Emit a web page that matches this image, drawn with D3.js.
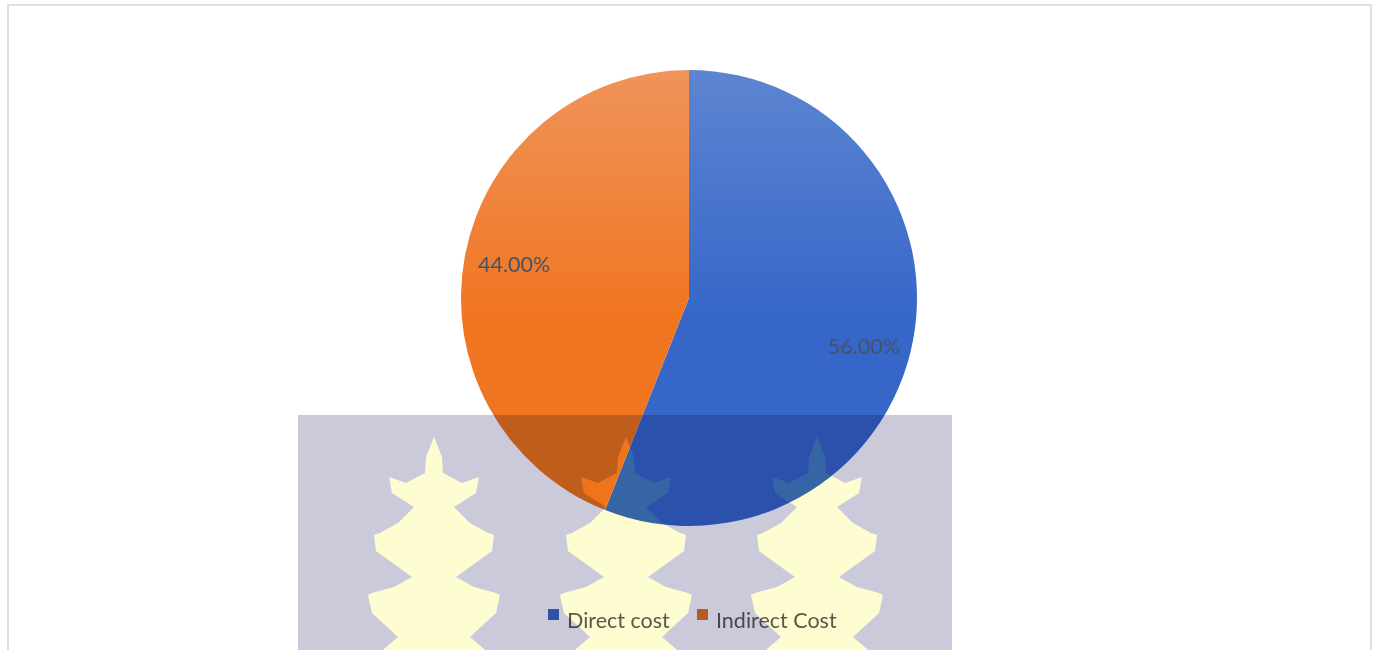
<!DOCTYPE html>
<html lang="en">
<head>
    <meta charset="UTF-8">
    <title>Cost split</title>
    <style>
        body { margin: 0; background: #fff; }
        svg { display: block; }
        .wm { mix-blend-mode: multiply; }
    </style>
    <script src="https://d3js.org/d3.v7.min.js"></script>
</head>
<body>
    <svg width="1380" height="650"></svg>
    <script>
        const categories = ['Direct cost', 'Indirect Cost'];
        const values = [56.0, 44.0];
        const colorsTop = ['#5d85d1', '#ef9459'];
        const colorsBottom = ['#3566c8', '#f07520'];
        const legendColors = ['#3b66c4', '#e8712b'];

        const svg = d3.select("svg"),
            width = +svg.attr("width"),
            height = +svg.attr("height");

        // chart frame
        svg.append("rect")
            .attr("x", 8).attr("y", 5)
            .attr("width", 1363).attr("height", 660)
            .attr("fill", "#fff")
            .attr("stroke", "#dde0e6")
            .attr("stroke-width", 2);

        const cx = 689, cy = 298, r = 228;

        const defs = svg.append("defs");
        categories.forEach((c, i) => {
            const g = defs.append("linearGradient")
                .attr("id", "grad" + i)
                .attr("gradientUnits", "userSpaceOnUse")
                .attr("x1", 0).attr("y1", -r)
                .attr("x2", 0).attr("y2", r);
            g.append("stop").attr("offset", "0%").attr("stop-color", colorsTop[i]);
            g.append("stop").attr("offset", "55%").attr("stop-color", colorsBottom[i]);
            g.append("stop").attr("offset", "100%").attr("stop-color", colorsBottom[i]);
        });

        const pie = d3.pie().sort(null).value(d => d);
        const arcs = pie(values);
        const arc = d3.arc().innerRadius(0).outerRadius(r);
        const labelArc = d3.arc().innerRadius(178).outerRadius(178);
        const labelNudge = [15, 0]; // excel best-fit shifts the right label down a bit

        const g = svg.append("g").attr("transform", `translate(${cx},${cy})`);

        g.selectAll("path")
            .data(arcs)
            .enter().append("path")
            .attr("d", arc)
            .attr("fill", (d, i) => `url(#grad${i})`);

        g.selectAll("text.lbl")
            .data(arcs)
            .enter().append("text")
            .attr("class", "lbl")
            .attr("transform", (d, i) => {
                const [x, y] = labelArc.centroid(d);
                return `translate(${x},${y + labelNudge[i]})`;
            })
            .attr("text-anchor", "middle")
            .attr("dy", "0.35em")
            .attr("font-family", "Lato, 'Open Sans', sans-serif")
            .attr("font-size", 21.5)
            .attr("fill", "#46536a")
            .text(d => d.data.toFixed(2) + "%");

        // legend
        const legend = svg.append("g").attr("transform", "translate(548,609)");
        const offsets = [0, 149];
        categories.forEach((c, i) => {
            const item = legend.append("g").attr("transform", `translate(${offsets[i]},0)`);
            item.append("rect").attr("width", 11).attr("height", 11).attr("fill", legendColors[i]);
            item.append("text")
                .attr("x", 19).attr("y", 19)
                .attr("font-family", "Lato, 'Open Sans', sans-serif")
                .attr("font-size", 21.5)
                .attr("fill", "#595959")
                .text(c);
        });

        // watermark overlay (grey panel with three leaves)
        const wm = svg.append("g").attr("class", "wm");
        wm.append("rect")
            .attr("x", 298).attr("y", 415)
            .attr("width", 654).attr("height", 240)
            .attr("fill", "#cbcadb");
        const leaf = [[0,0],[8,20],[9,36],[28,46],[45,40],[42,56],[20,70],[36,86],[54,96],[60,98],[58,114],[22,140],[40,150],[62,156],[66,158],[62,176],[36,200],[50,212],[60,225],[40,240]];
        const leafPts = leaf.concat(leaf.slice().reverse().map(p => [-p[0], p[1]]));
        const line = d3.line();
        [434, 626, 817].forEach(x => {
            wm.append("path")
                .attr("transform", `translate(${x},437)`)
                .attr("d", line(leafPts) + "Z")
                .attr("fill", "#fefdd2");
        });
    </script>
</body>
</html>
